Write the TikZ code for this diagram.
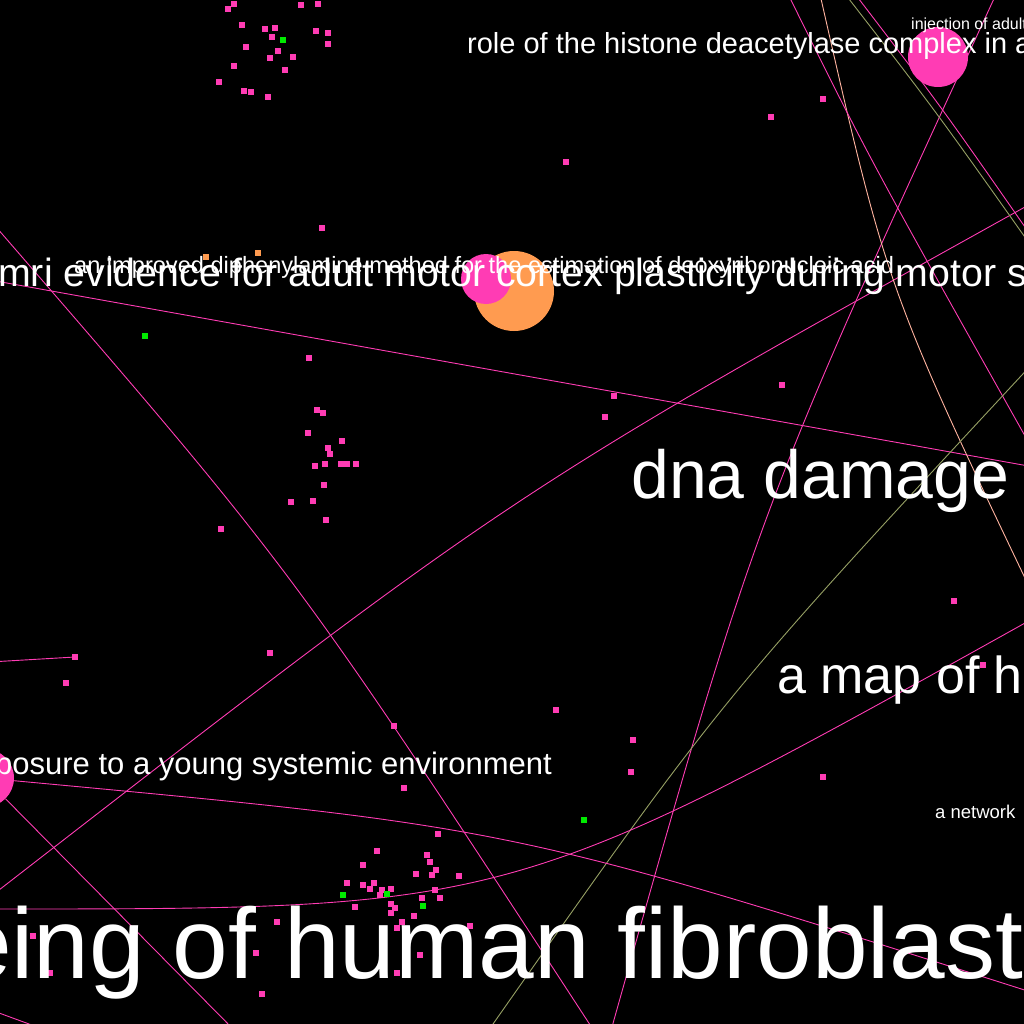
\documentclass[tikz,border=0pt]{standalone}
\usepackage{fontspec}
\setmainfont{Liberation Sans}
\usepackage{xcolor}
\usepackage{tikz}
\usetikzlibrary{positioning}
\definecolor{rosa}{RGB}{255,60,180}
\definecolor{laranja}{RGB}{255,155,80}
\definecolor{verde}{RGB}{0,235,0}
\definecolor{oliva}{RGB}{150,160,100}
\definecolor{pessego}{RGB}{255,180,160}
\newcommand{\tamanho}[1]{\fontsize{#1}{#1}\selectfont}
\tikzset{
    aresta/.style={draw=rosa, line width=0.9pt},
    arestaOliva/.style={aresta, draw=oliva},
    arestaPessego/.style={aresta, draw=pessego},
    noPequeno/.style={
        rectangle,
        fill=rosa,
        inner sep=0pt,
        minimum size=6pt
    },
    noVerde/.style={noPequeno, fill=verde},
    noLaranja/.style={noPequeno, fill=laranja},
    noGrande/.style={circle, fill=rosa, inner sep=0pt},
    rotulo/.style={text=white, anchor=base west, inner sep=0pt}
}

\begin{document}
\begin{tikzpicture}[x=1pt, y=-1pt]
    \useasboundingbox (0,0) rectangle (1024,1024);
    \fill[black] (0,0) rectangle (1024,1024);
    \clip (0,0) rectangle (1024,1024);

    % pontas das arestas fora do quadro
    \coordinate (cantoSupEsq) at (-10,220);
    \coordinate (fimInfA) at (596,1034);
    \coordinate (esqB) at (-10,280);
    \coordinate (dirB) at (1034,467);
    \coordinate (esqC) at (-10,897);
    \coordinate (dirC) at (1034,202);
    \coordinate (topoD) at (998,-10);
    \coordinate (fimInfD) at (610,1034);
    \coordinate (topoPessego) at (819,-10);
    \coordinate (dirPessego) at (1034,597);
    \coordinate (topoRosa) at (786,-10);
    \coordinate (dirRosa) at (1034,452);
    \coordinate (topoOliva) at (842,-10);
    \coordinate (dirOliva) at (1034,250);
    \coordinate (topoRosaB) at (852,-10);
    \coordinate (dirRosaB) at (1034,240);
    \coordinate (dirOlivaB) at (1034,362);
    \coordinate (fimOlivaB) at (486,1034);
    \coordinate (dirMapa) at (1034,618);
    \coordinate (esqMapa) at (-10,909);
    \coordinate (dirCirc) at (1034,993);
    \coordinate (fimCirc) at (238,1034);
    \coordinate (esqIsolado) at (-10,662);
    \coordinate (cantoInfA) at (-20,1006);
    \coordinate (cantoInfB) at (40,1028);

    % nos grandes
    \node[noGrande, minimum size=60pt] (histona) at (938,57) {};
    \node[noGrande, minimum size=58pt] (exposicao) at (-15,778) {};
    \node[noGrande, minimum size=80pt, fill=laranja] (fmri) at (514,291) {};
    \node[noGrande, minimum size=50pt] (difenil) at (486,279) {};
    \node[noPequeno] (isolado) at (75,657) {};

    % arestas
    \draw[aresta] (cantoSupEsq) .. controls (295,572) .. (fimInfA);
    \draw[aresta] (esqB) -- (dirB);
    \draw[aresta] (esqC) .. controls (512,492) .. (dirC);
    \draw[aresta] (topoD) .. controls (757,512) .. (fimInfD);
    \draw[arestaPessego] (topoPessego) .. controls (887,289) .. (dirPessego);
    \draw[aresta] (topoRosa) .. controls (870,160) .. (dirRosa);
    \draw[arestaOliva] (topoOliva) .. controls (935,110) .. (dirOliva);
    \draw[aresta] (topoRosaB) .. controls (940,105) .. (dirRosaB);
    \draw[arestaOliva] (dirOlivaB) .. controls (721,699) .. (fimOlivaB);
    \draw[aresta] (dirMapa) .. controls (512,909) .. (esqMapa);
    \draw[aresta] (exposicao) .. controls (512,827) .. (dirCirc);
    \draw[aresta] (exposicao) -- (fimCirc);
    \draw[aresta] (esqIsolado) -- (isolado);
    \draw[aresta] (cantoInfA) -- (cantoInfB);

    % nos pequenos
    \foreach \x/\y [count=\i] in {234/4, 228/9, 242/25, 265/29, 275/28, 272/37,
        246/47, 278/51, 270/58, 293/57, 234/66, 285/70, 219/82, 244/91, 251/92,
        268/97, 301/5, 318/4, 316/31, 328/33, 328/44,
        322/228, 566/162, 771/117, 823/99, 782/385, 614/396, 605/417,
        309/358, 317/410, 323/413, 308/433, 342/441, 328/448, 330/454,
        315/466, 325/464, 341/464, 347/464, 356/464, 324/485, 291/502,
        313/501, 326/520, 221/529, 954/601, 983/665, 270/653, 66/683,
        556/710, 394/726, 633/740, 631/772, 404/788, 823/777,
        438/834, 377/851, 363/865, 427/855, 430/862, 436/870, 432/875,
        416/874, 459/876, 347/883, 363/885, 374/883, 370/889, 382/890,
        391/889, 380/895, 435/890, 422/898, 440/898, 355/907, 391/904,
        395/908, 391/913, 414/916, 402/922, 397/928, 470/926,
        33/936, 50/973, 277/922, 256/953, 262/994, 420/955, 397/973}
        \node[noPequeno] (n\i) at (\x,\y) {};
    \foreach \x/\y [count=\i] in {283/40, 145/336, 343/895, 387/894, 423/906, 584/820}
        \node[noVerde] (v\i) at (\x,\y) {};
    \node[noLaranja] (laranjaA) at (206,257) {};
    \node[noLaranja] (laranjaB) at (258,253) {};

    % rotulos
    \node[rotulo, font=\tamanho{16}] (injecao) at (911,30) {injection of adult};
    \node[rotulo, font=\tamanho{29}] (histonaTxt) at (467,54) {role of the histone deacetylase complex in a};
    \node[rotulo, font=\tamanho{39.3}] (fmriTxt) at (-2,286) {mri evidence for adult motor cortex plasticity during motor s};
    \node[rotulo, font=\tamanho{23.6}] (difenilTxt) at (74,273) {an improved diphenylamine method for the estimation of deoxyribonucleic acid};
    \node[rotulo, font=\tamanho{68}] (dna) at (631,498) {dna damage};
    \node[rotulo, font=\tamanho{52}] (mapa) at (777,693) {a map of h};
    \node[rotulo, font=\tamanho{31}] (exposicaoTxt) at (-5,774) {posure to a young systemic environment};
    \node[rotulo, font=\tamanho{18.5}] (rede) at (935,818) {a network};
    \node[rotulo, font=\tamanho{100}] (fibroblasto) at (-44,978) {eing of human fibroblast};
\end{tikzpicture}
\end{document}
